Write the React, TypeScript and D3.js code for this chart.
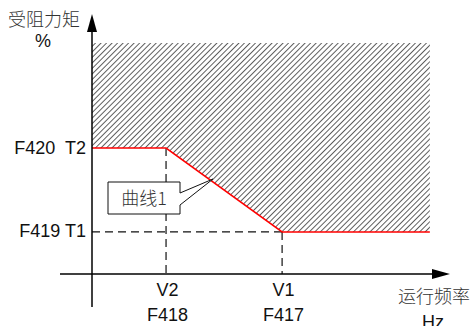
import * as d3 from "d3";
import React from "react";

// values (abstract units: 0..100 on both axes)
const torqueLabels = ["F420  T2", "F419 T1"];
const torqueValues = [54.5, 18.2];
const freqTop = ["V2", "V1"];
const freqBottom = ["F418", "F417"];
const freqValues = [20.8, 53.4];
const curveX = [0, 20.8, 53.4, 94.9];
const curveY = [54.5, 54.5, 18.2, 18.2];
const hatchTop = 100;

const W = 471,
  H = 326;
const latin = "'Liberation Sans', Arial, 'Noto Sans CJK SC', sans-serif";
const cjk = "'Noto Sans CJK SC', sans-serif";

export default function App() {
  const x = d3.scaleLinear().domain([0, 100]).range([92, 448]);
  const y = d3.scaleLinear().domain([0, 100]).range([274, 43]);

  const curve = curveX.map((v, i) => [x(v), y(curveY[i])] as [number, number]);
  const line = d3.line();

  // hatched area: above the curve, up to top of region
  const area = [
    [x(0), y(hatchTop)],
    [x(curveX[curveX.length - 1]), y(hatchTop)],
    ...curve.slice().reverse(),
  ] as [number, number][];

  const x0 = x(0);
  const yAxisBottom = 307;
  const xAxisLeft = 60;

  return (
    <svg
      width={W}
      height={H}
      style={{ position: "absolute", left: 0, top: 0, background: "#fff" }}
    >
      <defs>
        <pattern
          id="hatch"
          patternUnits="userSpaceOnUse"
          width={3.9}
          height={3.9}
          patternTransform="rotate(45)"
        >
          <line x1={0.5} y1={-1} x2={0.5} y2={5} stroke="#444" strokeWidth={0.85} />
        </pattern>
      </defs>

      <path d={line([...area, area[0]]) as string} fill="url(#hatch)" stroke="none" />

      {/* dashed guides */}
      <line
        x1={x0}
        x2={x(freqValues[1])}
        y1={y(torqueValues[1])}
        y2={y(torqueValues[1])}
        stroke="#111"
        strokeWidth={1.2}
        strokeDasharray="8,5"
      />
      {freqValues.map((v, i) => (
        <line
          key={i}
          x1={x(v)}
          x2={x(v)}
          y1={y(curveY[i + 1])}
          y2={y(0)}
          stroke="#111"
          strokeWidth={1.2}
          strokeDasharray="8,5"
        />
      ))}

      {/* curve */}
      <path d={line(curve) as string} fill="none" stroke="#ff0000" strokeWidth={1.5} />

      {/* axes */}
      <line x1={x0} x2={x0} y1={yAxisBottom} y2={30} stroke="#000" strokeWidth={1.5} />
      <path d={`M${x0},14 L${x0 - 5},32 L${x0 + 5},32 Z`} fill="#000" />
      <line x1={xAxisLeft} x2={434} y1={y(0)} y2={y(0)} stroke="#000" strokeWidth={1.5} />
      <path d={`M450,${y(0)} L432,${y(0) - 5} L432,${y(0) + 5} Z`} fill="#000" />

      {/* y labels */}
      <text x={44} y={26} fontFamily={cjk} fontSize={18} fontWeight={300} textAnchor="middle" fill="#333">
        受阻力矩
      </text>
      <text x={43} y={47} fontFamily={latin} fontSize={18} textAnchor="middle" fill="#111">
        %
      </text>
      {torqueValues.map((v, i) => (
        <text
          key={i}
          x={86}
          y={y(v) + 5.5}
          fontFamily={latin}
          fontSize={18}
          textAnchor="end"
          fill="#111"
          style={{ whiteSpace: "pre" }}
        >
          {torqueLabels[i]}
        </text>
      ))}

      {/* x labels */}
      {freqValues.map((v, i) => (
        <g key={i} fontFamily={latin} fontSize={18} textAnchor="middle" fill="#111">
          <text x={x(v) + 1.5} y={296}>
            {freqTop[i]}
          </text>
          <text x={x(v) + 1.5} y={321}>
            {freqBottom[i]}
          </text>
        </g>
      ))}
      <text x={434} y={303} fontFamily={cjk} fontSize={18} fontWeight={300} textAnchor="middle" fill="#333">
        运行频率
      </text>
      <text x={433} y={328} fontFamily={latin} fontSize={18} textAnchor="middle" fill="#111">
        Hz
      </text>

      {/* callout */}
      <path
        d="M108,182 H180 V193 L213,179 L180,205 V214 H108 Z"
        fill="#fff"
        stroke="#111"
        strokeWidth={1}
      />
      <text x={144} y={205} fontFamily={cjk} fontSize={18} fontWeight={300} textAnchor="middle" fill="#333">
        曲线1
      </text>
    </svg>
  );
}
